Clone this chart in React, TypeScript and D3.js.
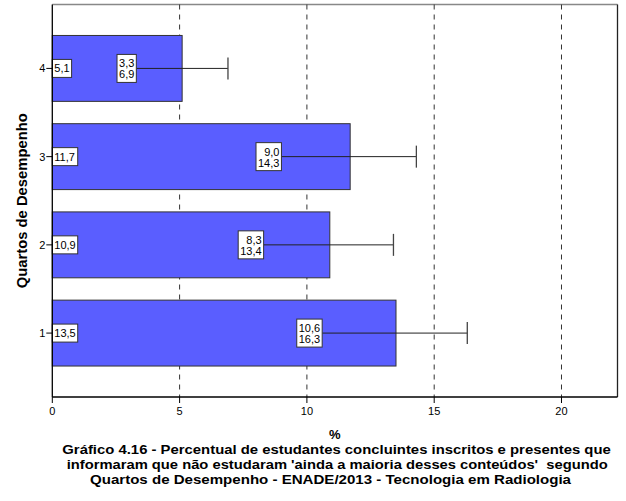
import React from "react";
import * as d3 from "d3";

const categories = ["1", "2", "3", "4"];
const values = [13.5, 10.9, 11.7, 5.1];
const lowerCI = [10.6, 8.3, 9.0, 3.3];
const upperCI = [16.3, 13.4, 14.3, 6.9];
const xTicks = [0, 5, 10, 15, 20];
const titleLines = [
  "Gráfico 4.16 - Percentual de estudantes concluintes inscritos e presentes que",
  "informaram que não estudaram 'ainda a maioria desses conteúdos'  segundo",
  "Quartos de Desempenho - ENADE/2013 - Tecnologia em Radiologia",
];
const fmt = (v: number) => v.toFixed(1).replace(".", ",");

const W = 626;
const H = 501;
const L = 52.3;
const R = 617.5;
const T = 4.5;
const B = 397;

const FONT = "'Liberation Sans', Arial, sans-serif";
const digitW = (s: string) =>
  s.split("").reduce((a, c) => a + (c === "," ? 3.06 : 6.12), 0);

const titleGeom = [
  { x: 62.3, w: 548.5, y: 454 },
  { x: 66.7, w: 541, y: 469 },
  { x: 90, w: 481, y: 484 },
];

export default function App() {
  const x = d3.scaleLinear().domain([0, 22.2]).range([L, R]);
  const y = d3.scalePoint<string>().domain(categories).range([B, T]).padding(0.7245);
  const step = y.step();
  const barH = step * 0.747;

  return (
    <svg
      width={W}
      height={H}
      style={{ position: "absolute", left: 0, top: 0, background: "#fff" }}
      fontFamily={FONT}
    >
      <rect x={0} y={0} width={W} height={H} fill="#fff" />
      {/* frame */}
      <line x1={L} x2={R} y1={T} y2={T} stroke="#888" strokeWidth={1.3} />
      <line x1={R} x2={R} y1={T} y2={B} stroke="#222" strokeWidth={1.3} />
      {/* grid */}
      {xTicks.filter((t) => t > 0).map((t) => (
        <line
          key={"g" + t}
          x1={x(t)}
          x2={x(t)}
          y1={T}
          y2={B}
          stroke="#333"
          strokeWidth={1}
          strokeDasharray="5,5"
        />
      ))}
      {/* bars */}
      {categories.map((c, i) => (
        <rect
          key={"b" + c}
          x={x(0)}
          y={(y(c) as number) - barH / 2}
          width={x(values[i]) - x(0)}
          height={barH}
          fill="#5a5eff"
          stroke="#333"
          strokeWidth={1}
        />
      ))}
      {/* error bars */}
      {categories.map((c, i) => {
        const cy = y(c) as number;
        return (
          <g key={"e" + c}>
            <line x1={x(lowerCI[i])} x2={x(upperCI[i])} y1={cy} y2={cy} stroke="#222" strokeWidth={1} />
            <line x1={x(upperCI[i])} x2={x(upperCI[i])} y1={cy - 11} y2={cy + 11} stroke="#444" strokeWidth={1.3} />
          </g>
        );
      })}
      {/* value boxes */}
      {categories.map((c, i) => {
        const cy = y(c) as number;
        const s = fmt(values[i]);
        const w = digitW(s) + 4;
        return (
          <g key={"v" + c}>
            <rect x={x(0)} y={cy - 9} width={w} height={18} fill="#fff" stroke="#333" strokeWidth={1} />
            <text x={x(0) + 2} y={cy + 4} fontSize={11} fill="#000">{s}</text>
          </g>
        );
      })}
      {/* CI boxes */}
      {categories.map((c, i) => {
        const cy = y(c) as number;
        const s1 = fmt(lowerCI[i]);
        const s2 = fmt(upperCI[i]);
        const w = Math.max(digitW(s1), digitW(s2)) + 4;
        const rx = x(lowerCI[i]);
        return (
          <g key={"c" + c}>
            <rect x={rx - w} y={cy - 14} width={w} height={28} fill="#fff" stroke="#333" strokeWidth={1} />
            <text x={rx - 2} y={cy - 1} fontSize={11} textAnchor="end" fill="#000">{s1}</text>
            <text x={rx - 2} y={cy + 10} fontSize={11} textAnchor="end" fill="#000">{s2}</text>
          </g>
        );
      })}
      {/* axes */}
      <line x1={L} x2={L} y1={T} y2={B} stroke="#000" strokeWidth={1.3} />
      <line x1={L} x2={R} y1={B} y2={B} stroke="#000" strokeWidth={1.3} />
      {xTicks.map((t) => (
        <g key={"xt" + t}>
          <line x1={x(t)} x2={x(t)} y1={B} y2={B + 6} stroke="#000" strokeWidth={1} />
          <text x={x(t)} y={B + 18} fontSize={11} textAnchor="middle" fill="#000">{t}</text>
        </g>
      ))}
      {categories.map((c) => (
        <g key={"yt" + c}>
          <line x1={L - 6} x2={L} y1={y(c) as number} y2={y(c) as number} stroke="#000" strokeWidth={1} />
          <text x={L - 7} y={(y(c) as number) + 4} fontSize={11} textAnchor="end" fill="#000">{c}</text>
        </g>
      ))}
      <text
        transform={`translate(27,${(T + B) / 2}) rotate(-90)`}
        fontSize={14}
        fontWeight="bold"
        textAnchor="middle"
        textLength={175}
        lengthAdjust="spacingAndGlyphs"
        fill="#000"
      >
        Quartos de Desempenho
      </text>
      <text x={(L + R) / 2} y={439} fontSize={13} fontWeight="bold" textAnchor="middle" fill="#000">%</text>
      {titleLines.map((s, i) => (
        <text
          key={"t" + i}
          x={titleGeom[i].x}
          y={titleGeom[i].y}
          textLength={titleGeom[i].w}
          lengthAdjust="spacingAndGlyphs"
          fontSize={13.5}
          fontWeight="bold"
          fill="#000"
          style={{ whiteSpace: "pre" }}
        >
          {s}
        </text>
      ))}
    </svg>
  );
}
